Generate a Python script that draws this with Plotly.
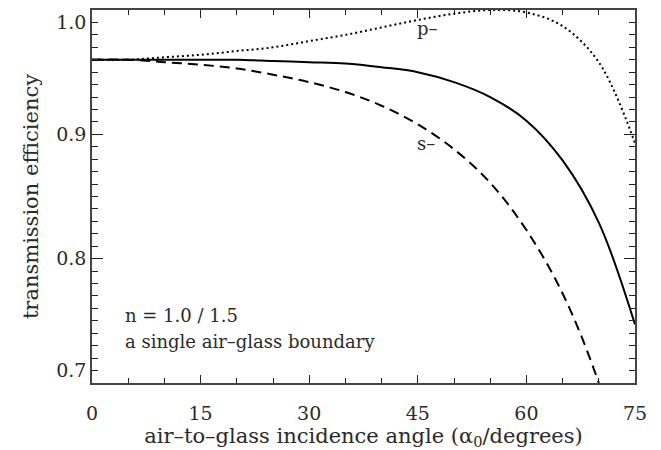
import plotly.graph_objects as go

# incidence angle (degrees)
angles = [0, 5, 10, 15, 20, 25, 30, 35, 40, 45, 50, 55, 60, 65, 70, 75]
# transmission efficiencies
t_p = [0.960, 0.960, 0.962, 0.964, 0.967, 0.970, 0.975, 0.980, 0.986, 0.992,
       0.997, 1.000, 0.998, 0.987, 0.958, 0.893]
t_s = [0.960, 0.960, 0.958, 0.956, 0.953, 0.948, 0.942, 0.934, 0.923, 0.908,
       0.888, 0.861, 0.823, 0.772, 0.700, 0.601]
t_avg = [0.960, 0.960, 0.960, 0.960, 0.960, 0.959, 0.958, 0.957, 0.954, 0.950,
         0.942, 0.930, 0.911, 0.879, 0.829, 0.747]

# tick label text (edge labels nudged inward like the original)
y_label_alias = {"0.7": "0.7<br> ", "1.0": " <br>1.0"}

FONT = "DejaVu Serif"
AX = "#444444"
TK = "#222222"
TXT = "#2a2a2a"

fig = go.Figure()
fig.add_trace(go.Scatter(x=angles, y=t_avg, mode="lines",
                         line=dict(color="black", width=2, shape="spline")))
fig.add_trace(go.Scatter(x=angles, y=t_s, mode="lines",
                         line=dict(color="black", width=2, shape="spline", dash="10px,6px")))
fig.add_trace(go.Scatter(x=angles, y=t_p, mode="lines",
                         line=dict(color="black", width=2, shape="spline", dash="2px,3px")))

fig.add_annotation(x=44.6, y=0.985, text="p–", showarrow=False, xanchor="left",
                   font=dict(family=FONT, size=18, color=TXT))
fig.add_annotation(x=44.6, y=0.893, text="s–", showarrow=False, xanchor="left",
                   font=dict(family=FONT, size=18, color=TXT))
fig.add_annotation(x=4.3, y=0.754, text="n = 1.0 / 1.5", showarrow=False, xanchor="left",
                   font=dict(family=FONT, size=18, color=TXT))
fig.add_annotation(x=4.3, y=0.733, text="a single air–glass boundary", showarrow=False,
                   xanchor="left", font=dict(family=FONT, size=18, color=TXT))

fig.update_layout(
    width=653, height=442,
    margin=dict(l=84, r=26, t=2, b=67, autoexpand=False),
    plot_bgcolor="white", paper_bgcolor="white",
    showlegend=False,
    font=dict(family=FONT, color=TXT),
)
fig.update_xaxes(
    range=[0, 75], tickmode="linear", tick0=0, dtick=15,
    showgrid=False, zeroline=False,
    showline=True, linecolor=AX, linewidth=1.5, mirror="allticks",
    ticks="inside", ticklen=8, tickcolor=TK, tickwidth=1.2,
    minor=dict(tickmode="linear", tick0=0, dtick=5, ticks="inside", ticklen=5,
               tickcolor=TK, tickwidth=1.2, showgrid=False),
    tickfont=dict(family=FONT, size=19, color=TXT),
    ticklabelstandoff=12, ticklabeloverflow="allow",
    automargin=False,
    title=dict(text="air–to–glass incidence angle (α<sub>0</sub>/degrees)",
               font=dict(family=FONT, size=21, color=TXT), standoff=4),
)
fig.update_yaxes(
    range=[0.7, 1.0], tickmode="linear", tick0=0.7, dtick=0.1, tickformat=".1f",
    labelalias=y_label_alias,
    showgrid=False, zeroline=False,
    showline=True, linecolor=AX, linewidth=1.5, mirror="allticks",
    ticks="inside", ticklen=11, tickcolor=TK, tickwidth=1.2,
    minor=dict(tickmode="linear", tick0=0.7, dtick=0.01, ticks="inside", ticklen=6,
               tickcolor=TK, tickwidth=1.2, showgrid=False),
    tickfont=dict(family=FONT, size=19, color=TXT),
    ticklabeloverflow="allow",
    automargin=False,
    title=dict(text="transmission efficiency",
               font=dict(family=FONT, size=21, color=TXT), standoff=12),
)

fig.write_html("out.html")
